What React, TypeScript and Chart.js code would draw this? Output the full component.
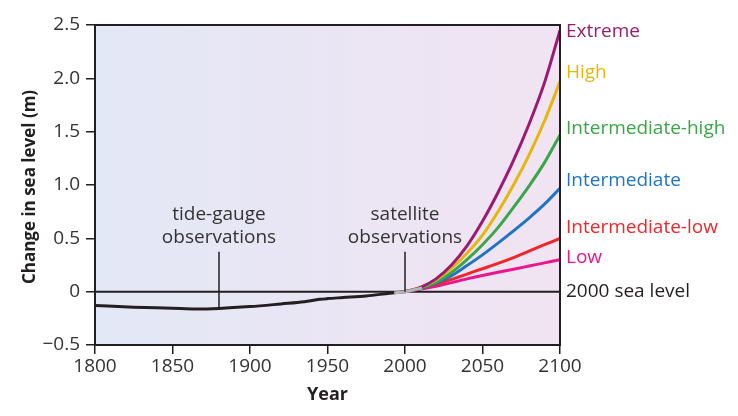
import React, { useEffect, useRef } from "react";
import { Chart, registerables } from "chart.js";

Chart.register(...registerables);

const obsYears = [1800, 1825, 1850, 1865, 1880, 1900, 1920, 1935, 1945, 1950, 1960, 1975, 1990, 2000];
const obsValues = [-0.13, -0.145, -0.155, -0.162, -0.157, -0.14, -0.115, -0.095, -0.072, -0.065, -0.055, -0.04, -0.015, 0];

const satYears = [1993, 2000, 2005, 2011];
const satValues = [-0.012, 0, 0.015, 0.035];

const projYears = [2000, 2010, 2020, 2030, 2040, 2050, 2060, 2070, 2080, 2090, 2100];
const lowValues = [0, 0.025, 0.05, 0.085, 0.12, 0.152, 0.182, 0.21, 0.24, 0.27, 0.3];
const intLowValues = [0, 0.03, 0.07, 0.115, 0.165, 0.215, 0.265, 0.32, 0.38, 0.44, 0.5];
const intValues = [0, 0.03, 0.08, 0.15, 0.245, 0.345, 0.455, 0.57, 0.69, 0.82, 0.97];
const intHighValues = [0, 0.035, 0.09, 0.18, 0.3, 0.44, 0.6, 0.79, 0.99, 1.21, 1.47];
const highValues = [0, 0.04, 0.11, 0.22, 0.36, 0.53, 0.75, 1.0, 1.28, 1.6, 1.97];
const extremeValues = [0, 0.04, 0.12, 0.25, 0.43, 0.66, 0.93, 1.23, 1.57, 1.96, 2.45];

const scenarioNames = ["Extreme", "High", "Intermediate-high", "Intermediate", "Intermediate-low", "Low", "2000 sea level"];
const scenarioColors = ["#9b1b72", "#e3b70f", "#3aa648", "#1f74c4", "#f0262b", "#ec168c", "#231f20"];
const labelValues = [2.44, 2.05, 1.53, 1.04, 0.6, 0.32, 0];

const xTicks = [1800, 1850, 1900, 1950, 2000, 2050, 2100];
const yTicks = [-0.5, 0, 0.5, 1.0, 1.5, 2.0, 2.5];
const yTickLabels = ["\u22120.5", "0", "0.5", "1.0", "1.5", "2.0", "2.5"];

const annotations = [
  { year: 1880, lines: ["tide-gauge", "observations"], top: 0.375, bottom: -0.155 },
  { year: 2000, lines: ["satellite", "observations"], top: 0.375, bottom: 0 },
];
const annotationLineValues = [0.725, 0.51];

const FONT = "'Open Sans', 'Noto Sans', sans-serif";
const DARK = "#231f20";
const TEXT = "#333333";

const pts = (xs: number[], ys: number[]) => xs.map((x, i) => ({ x, y: ys[i] }));

export default function App() {
  const ref = useRef<HTMLCanvasElement | null>(null);
  useEffect(() => {
    document.body.style.margin = "0";
    const canvas = ref.current!;
    const custom = {
      id: "custom",
      beforeDatasetsDraw(chart: any) {
        const { ctx, chartArea: a } = chart;
        ctx.save();
        const g = ctx.createLinearGradient(a.left, 0, a.right, 0);
        g.addColorStop(0, "#e3e8f6");
        g.addColorStop(1, "#f1e3f2");
        ctx.fillStyle = g;
        ctx.fillRect(a.left, a.top, a.right - a.left, a.bottom - a.top);
        ctx.restore();
      },
      afterDraw(chart: any) {
        const { ctx, chartArea: a, scales } = chart;
        const xs = scales.x;
        const ys = scales.y;
        ctx.save();
        ctx.strokeStyle = DARK;
        ctx.lineWidth = 2;
        ctx.strokeRect(a.left, a.top, a.right - a.left, a.bottom - a.top);
        ctx.font = `19px ${FONT}`;
        ctx.fillStyle = TEXT;
        ctx.textAlign = "center";
        ctx.textBaseline = "middle";
        annotations.forEach((an) => {
          const px = xs.getPixelForValue(an.year);
          an.lines.forEach((t, i) => ctx.fillText(t, px, ys.getPixelForValue(annotationLineValues[i])));
          ctx.beginPath();
          ctx.lineWidth = 1.5;
          ctx.moveTo(px, ys.getPixelForValue(an.top));
          ctx.lineTo(px, ys.getPixelForValue(an.bottom));
          ctx.stroke();
        });
        ctx.textAlign = "left";
        scenarioNames.forEach((n, i) => {
          ctx.fillStyle = scenarioColors[i];
          ctx.fillText(n, a.right + 6, ys.getPixelForValue(labelValues[i]));
        });
        ctx.fillStyle = DARK;
        ctx.font = `bold 18px ${FONT}`;
        ctx.textAlign = "center";
        ctx.fillText("Year", (a.left + a.right) / 2, 395);
        ctx.font = `bold 17px ${FONT}`;
        ctx.translate(30, (a.top + a.bottom) / 2 + 2);
        ctx.rotate(-Math.PI / 2);
        ctx.fillText("Change in sea level (m)", 0, 0);
        ctx.restore();
      },
    };
    const lineDs = (label: string, data: any[], color: string, width: number, order: number) => ({
      label,
      data,
      borderColor: color,
      borderWidth: width,
      pointRadius: 0,
      cubicInterpolationMode: "monotone",
      fill: false,
      order,
    });
    const chart = new Chart(canvas, {
      type: "line",
      data: {
        datasets: [
          lineDs("zero", [{ x: 1800, y: 0 }, { x: 2100, y: 0 }], DARK, 2, 10),
          lineDs("tide-gauge", pts(obsYears, obsValues), DARK, 3, 9),
          lineDs(scenarioNames[5], pts(projYears, lowValues), scenarioColors[5], 3, 8),
          lineDs(scenarioNames[4], pts(projYears, intLowValues), scenarioColors[4], 3, 7),
          lineDs(scenarioNames[3], pts(projYears, intValues), scenarioColors[3], 3, 6),
          lineDs(scenarioNames[2], pts(projYears, intHighValues), scenarioColors[2], 3, 5),
          lineDs(scenarioNames[1], pts(projYears, highValues), scenarioColors[1], 3, 4),
          lineDs(scenarioNames[0], pts(projYears, extremeValues), scenarioColors[0], 3, 3),
          lineDs("satellite", pts(satYears, satValues), "#b5b5b5", 3, 1),
        ],
      },
      options: {
        animation: false,
        responsive: false,
        maintainAspectRatio: false,
        layout: { padding: { left: 0, right: 178, top: 25, bottom: 0 } },
        plugins: { legend: { display: false }, tooltip: { enabled: false } },
        scales: {
          x: {
            type: "linear",
            min: 1800,
            max: 2100,
            afterFit: (s: any) => { s.height = 71; },
            afterBuildTicks: (s: any) => { s.ticks = xTicks.map((v) => ({ value: v })); },
            ticks: { color: TEXT, font: { family: FONT, size: 19 }, padding: 1, maxRotation: 0, callback: (v: any) => String(v) },
            grid: { drawOnChartArea: false, drawTicks: true, tickLength: 9, color: DARK, lineWidth: 1.5 },
            border: { display: false },
          },
          y: {
            type: "linear",
            min: -0.5,
            max: 2.5,
            afterFit: (s: any) => { s.width = 95; },
            afterBuildTicks: (s: any) => { s.ticks = yTicks.map((v) => ({ value: v })); },
            ticks: {
              color: TEXT,
              font: { family: FONT, size: 19 },
              padding: 6,
              callback: (v: any) => yTickLabels[yTicks.indexOf(Number(v))] ?? "",
            },
            grid: { drawOnChartArea: false, drawTicks: true, tickLength: 9, color: DARK, lineWidth: 1.5 },
            border: { display: false },
          },
        },
      },
      plugins: [custom],
    } as any);
    return () => chart.destroy();
  }, []);
  return <canvas ref={ref} width={738} height={416} style={{ display: "block" }} />;
}
